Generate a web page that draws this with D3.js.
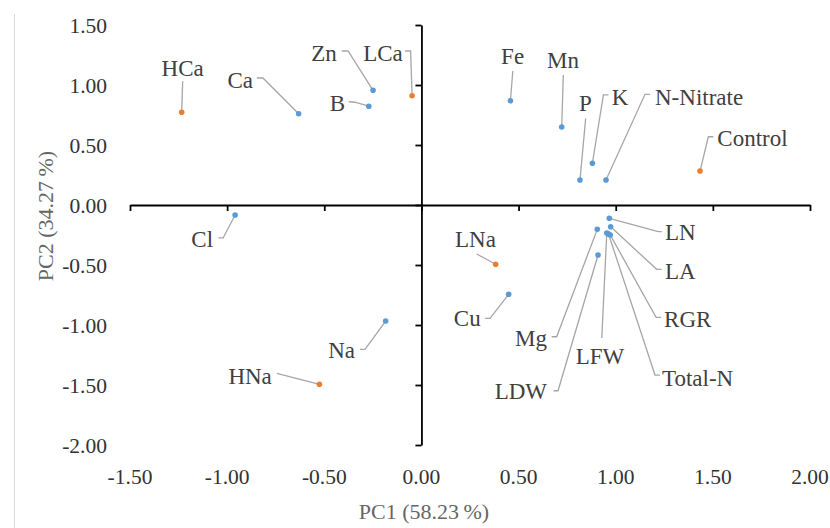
<!DOCTYPE html>
<html>
<head>
<meta charset="utf-8">
<script src="https://cdn.jsdelivr.net/npm/d3@7"></script>
<style>
  body { margin: 0; background: #fff; }
</style>
</head>
<body>
<div id="chart-area"></div>
<script>
// PCA biplot, PC1 vs PC2

// datos
const names = ["HCa", "Ca", "Zn", "B", "LCa", "Cl", "Fe", "Mn", "P", "K", "N-Nitrate", "Control",
               "LN", "LA", "Mg", "LFW", "Total-N", "RGR", "LDW", "LNa", "Cu", "Na", "HNa"];
const pc1 = [-1.234, -0.632, -0.249, -0.271, -0.048, -0.959, 0.458, 0.722, 0.816, 0.880, 0.950, 1.434,
             0.967, 0.974, 0.905, 0.954, 0.963, 0.972, 0.909, 0.382, 0.449, -0.184, -0.525];
const pc2 = [0.773, 0.761, 0.956, 0.823, 0.911, -0.083, 0.869, 0.650, 0.208, 0.348, 0.208, 0.283,
             -0.111, -0.181, -0.203, -0.233, -0.242, -0.250, -0.417, -0.494, -0.744, -0.967, -1.494];
// "t" = tratamiento (naranja), "v" = variable (azul)
const grupo = ["t", "v", "v", "v", "t", "v", "v", "v", "v", "v", "v", "t",
               "v", "v", "v", "v", "v", "v", "v", "t", "v", "v", "t"];

const xTicks = [-1.5, -1.0, -0.5, 0, 0.5, 1.0, 1.5, 2.0];
const yTicks = [1.5, 1.0, 0.5, 0, -0.5, -1.0, -1.5, -2.0];
const xTitle = "PC1 (58.23\u2009%)";
const yTitle = "PC2 (34.27\u2009%)";

// label layout: text offset, anchor, leader polyline (offsets from the point, px)
const layout = {
  "HCa":       { t: [1, -44], a: "middle", l: [[1, -31]] },
  "Ca":        { t: [-45.7, -33.7], a: "end", l: [[-35.7, -35.7], [-41.7, -35.7]] },
  "Zn":        { t: [-36.3, -37.3], a: "end", l: [[-25, -39.3], [-31.3, -39.3]] },
  "B":         { t: [-23.7, -3.3], a: "end", l: [[-14, -4], [-20, -4.5]] },
  "LCa":       { t: [-9.3, -42.7], a: "end", l: [[-1.5, -44.7], [-7, -44.7]] },
  "Cl":        { t: [-22, 24], a: "end", l: [[-12, 23], [-16.7, 23]] },
  "Fe":        { t: [2.2, -45], a: "middle", l: [[2.4, -29.7]] },
  "Mn":        { t: [1.3, -67], a: "middle", l: [[1.6, -52]] },
  "P":         { t: [5.5, -77], a: "middle", l: [[5.7, -61.7]] },
  "K":         { t: [19.4, -66.6], a: "start", l: [[11, -68.3], [16, -68.3]] },
  "N-Nitrate": { t: [49, -83.3], a: "start", l: [[39, -85.7], [44, -85.7]] },
  "Control":   { t: [17.3, -32.7], a: "start", l: [[8.3, -34.3], [13.3, -34.3]] },
  "LN":        { t: [55.7, 13.7], a: "start", l: [[49, 13.4], [52.4, 13.4]] },
  "LA":        { t: [54.3, 44.3], a: "start", l: [[46, 42.6], [51, 42.6]] },
  "RGR":       { t: [53.8, 84], a: "start", l: [[45.8, 82.3], [50.8, 82.3]] },
  "Total-N":   { t: [53.5, 144], a: "start", l: [[46.5, 141], [51.5, 141]] },
  "LFW":       { t: [-6.7, 123], a: "middle", l: [[-5, 105]] },
  "Mg":        { t: [-50.3, 108.7], a: "end", l: [[-40.6, 107.4], [-45.6, 107.4]] },
  "LDW":       { t: [-51, 136], a: "end", l: [[-40, 135.7], [-44.5, 135.7]] },
  "LNa":       { t: [-20.2, -25.3], a: "middle", l: [[-19, -10.3]] },
  "Cu":        { t: [-28, 23.7], a: "end", l: [[-18.7, 24], [-23.7, 24]] },
  "Na":        { t: [-30.7, 29], a: "end", l: [[-20.7, 28.3], [-25.7, 28.3]] },
  "HNa":       { t: [-47.6, -8.3], a: "end", l: [[-42.6, -11]] }
};

const W = 830, H = 528;
const FONT = "Liberation Serif";
const colores = { t: "#ed7d31", v: "#5b9bd5" };
const fmt = d => d.toFixed(2); // hyphen minus like the original, not U+2212

const svg = d3.select("#chart-area")
  .append("svg")
    .attr("width", W)
    .attr("height", H)
    .attr("font-family", FONT);

// thin frame line on the left
svg.append("line")
  .attr("x1", 14.5).attr("x2", 14.5)
  .attr("y1", 14).attr("y2", H)
  .attr("stroke", "#d9d9d9")
  .attr("stroke-width", 1);

const x = d3.scaleLinear().domain([-1.5, 2.0]).range([130, 810]);
const y = d3.scaleLinear().domain([-2.0, 1.5]).range([445, 25]);

// axes crossing at the origin
const xAxis = svg.append("g")
  .attr("transform", "translate(0," + y(0) + ")")
  .call(d3.axisBottom(x).tickValues(xTicks).tickSize(6).tickSizeOuter(0).tickFormat(""));
const yAxis = svg.append("g")
  .attr("transform", "translate(" + x(0) + ",0)")
  .call(d3.axisLeft(y).tickValues(yTicks).tickSize(6).tickSizeOuter(0).tickFormat(""));

[xAxis, yAxis].forEach(a => {
  a.select(".domain").attr("stroke", "#000").attr("stroke-width", 1.8);
  a.selectAll(".tick line").attr("stroke", "#000").attr("stroke-width", 1.8);
});

// tick labels along the bottom and the left edge
svg.append("g").selectAll("text")
  .data(xTicks)
  .join("text")
    .attr("x", d => x(d))
    .attr("y", 476)
    .attr("dy", "0.35em")
    .attr("text-anchor", "middle")
    .attr("font-family", FONT)
    .attr("font-size", 21.5)
    .attr("fill", "#333")
    .text(fmt);

svg.append("g").selectAll("text")
  .data(yTicks)
  .join("text")
    .attr("x", 107)
    .attr("y", d => y(d))
    .attr("dy", "0.35em")
    .attr("text-anchor", "end")
    .attr("font-family", FONT)
    .attr("font-size", 21.5)
    .attr("fill", "#333")
    .text(fmt);

// axis titles
svg.append("text")
  .attr("x", 424)
  .attr("y", 511)
  .attr("dy", "0.35em")
  .attr("text-anchor", "middle")
  .attr("font-family", FONT)
  .attr("font-size", 22)
  .attr("fill", "#666")
  .text(xTitle);

svg.append("text")
  .attr("transform", "translate(45,216) rotate(-90)")
  .attr("dy", "0.35em")
  .attr("text-anchor", "middle")
  .attr("font-family", FONT)
  .attr("font-size", 22)
  .attr("fill", "#666")
  .text(yTitle);

const puntos = names.map((n, i) => ({ nombre: n, x: pc1[i], y: pc2[i], g: grupo[i] }));

// leader lines
svg.append("g").selectAll("polyline")
  .data(puntos)
  .join("polyline")
    .attr("points", d => {
      const px = x(d.x), py = y(d.y);
      return [[px, py]].concat(layout[d.nombre].l.map(o => [px + o[0], py + o[1]]))
        .map(p => p.join(",")).join(" ");
    })
    .attr("fill", "none")
    .attr("stroke", "#a6a6a6")
    .attr("stroke-width", 1.3);

// points
svg.append("g").selectAll("circle")
  .data(puntos)
  .join("circle")
    .attr("cx", d => x(d.x))
    .attr("cy", d => y(d.y))
    .attr("r", 2.8)
    .attr("fill", d => colores[d.g]);

// labels
svg.append("g").selectAll("text")
  .data(puntos)
  .join("text")
    .attr("x", d => x(d.x) + layout[d.nombre].t[0])
    .attr("y", d => y(d.y) + layout[d.nombre].t[1])
    .attr("dy", "0.35em")
    .attr("text-anchor", d => layout[d.nombre].a)
    .attr("font-family", FONT)
    .attr("font-size", 23)
    .attr("fill", "#404040")
    .text(d => d.nombre);
</script>
</body>
</html>
